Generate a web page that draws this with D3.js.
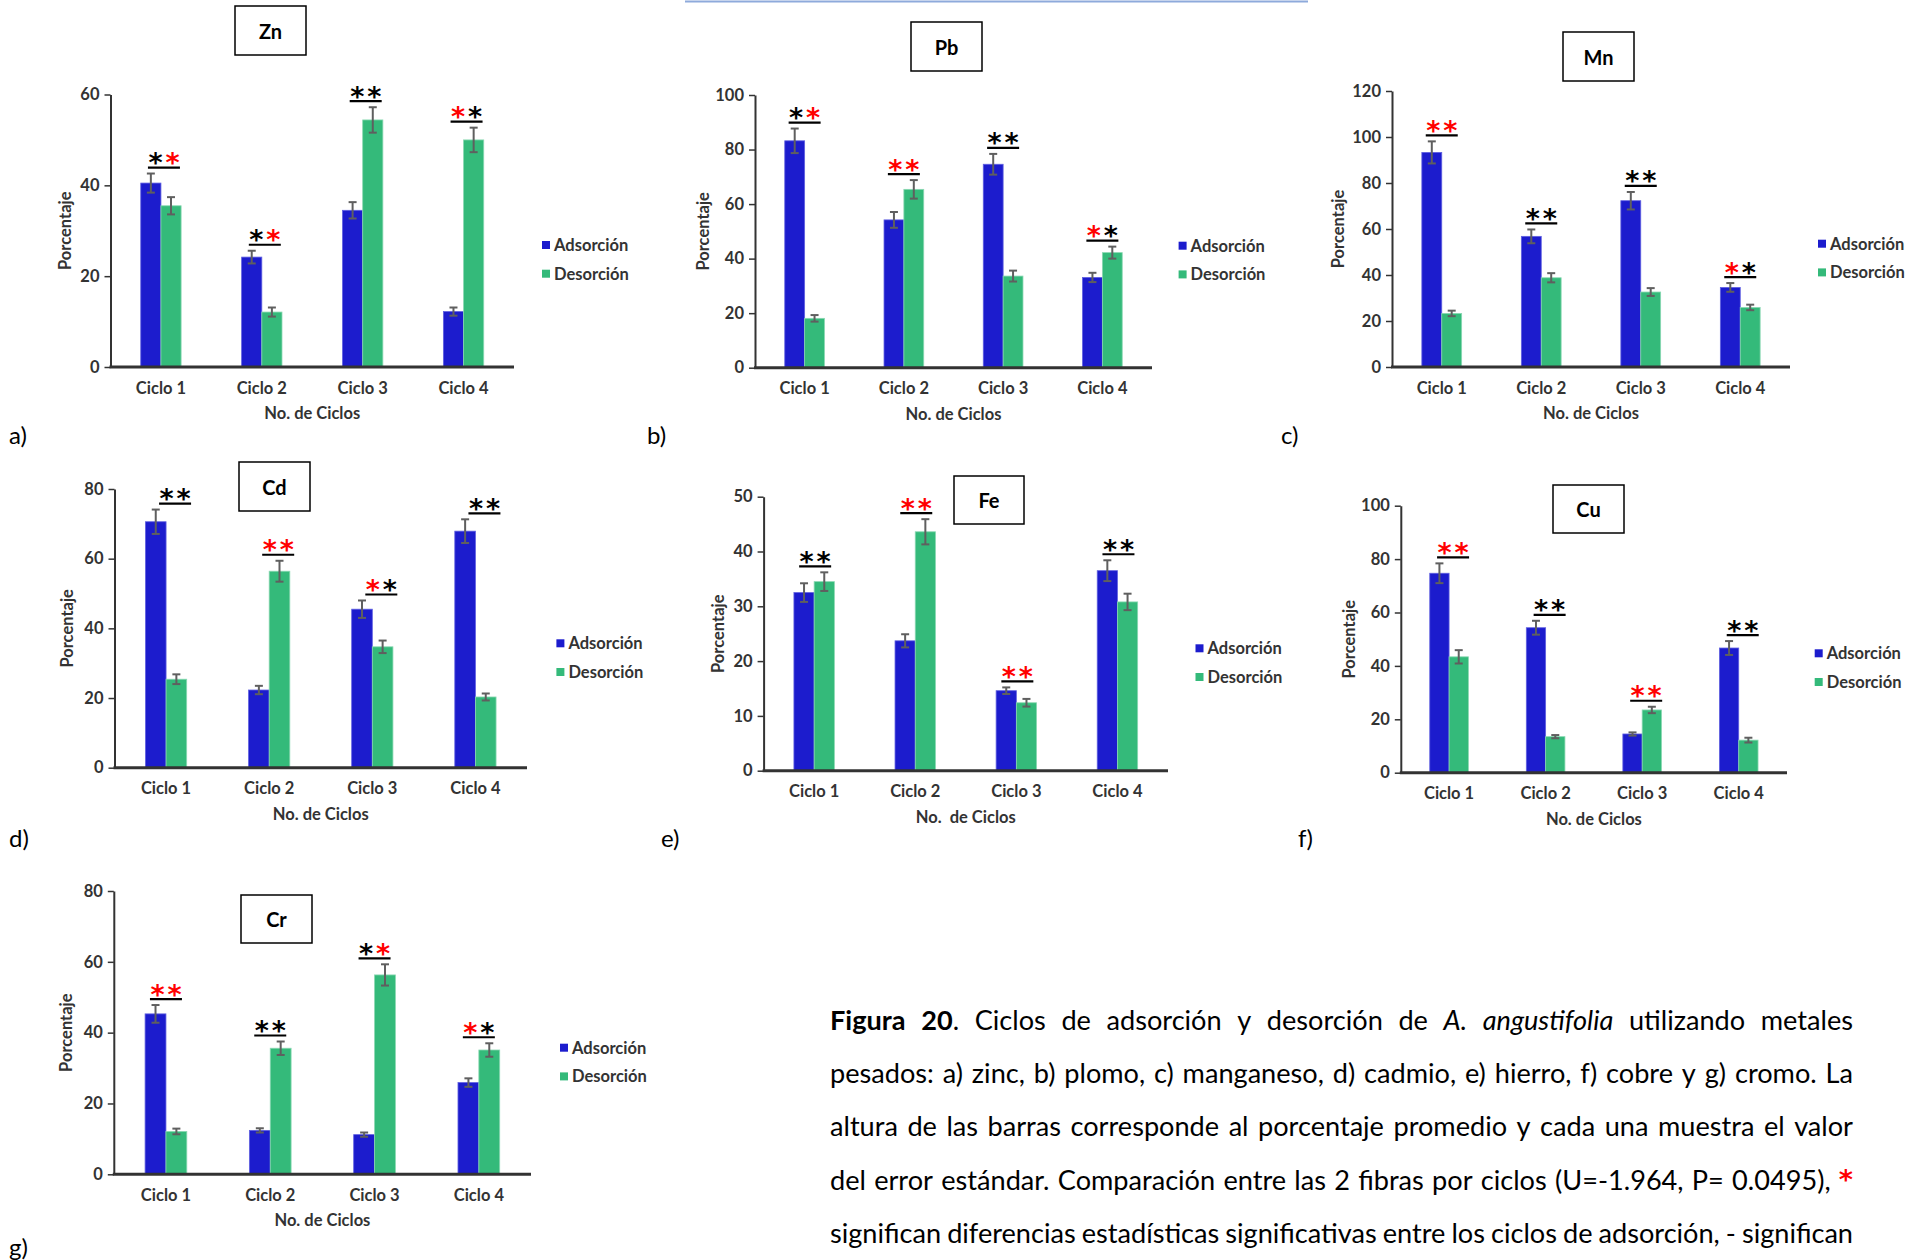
<!DOCTYPE html>
<html>
<head>
<meta charset="utf-8">
<script src="https://cdn.jsdelivr.net/npm/d3@7"></script>
<style>
  body { margin: 0; background: #fff; }
  svg { display: block; }
</style>
</head>
<body>
<svg id="fig" width="1927" height="1260"></svg>
<script>
// ---- data ----
const cycles = ["Ciclo 1", "Ciclo 2", "Ciclo 3", "Ciclo 4"];
const seriesNames = ["Adsorción", "Desorción"];
const metals = ["Zn", "Pb", "Mn", "Cd", "Fe", "Cu", "Cr"];
const panelTags = ["a)", "b)", "c)", "d)", "e)", "f)", "g)"];
const yMaxima = [60, 100, 120, 80, 50, 100, 80];
const yTickSteps = [20, 20, 20, 20, 10, 20, 20];

// mean percentage per cycle, one row per metal
const adsMean = [
  [40.5, 24.2, 34.5, 12.2],
  [83.2, 54.2, 74.6, 33.1],
  [93.3, 56.8, 72.3, 34.6],
  [70.6, 22.3, 45.5, 67.9],
  [32.5, 23.7, 14.6, 36.5],
  [74.7, 54.3, 14.5, 46.7],
  [45.3, 12.4, 11.2, 25.9]
];
const adsErr = [
  [2.1, 1.4, 1.8, 0.9],
  [4.5, 2.9, 3.8, 1.7],
  [4.8, 3.0, 3.8, 1.9],
  [3.5, 1.2, 2.5, 3.4],
  [1.7, 1.2, 0.6, 1.9],
  [3.7, 2.6, 0.6, 2.6],
  [2.5, 0.6, 0.6, 1.2]
];
const desMean = [
  [35.5, 12.1, 54.4, 50.0],
  [18.1, 65.4, 33.6, 42.2],
  [23.3, 38.8, 32.6, 25.9],
  [25.4, 56.4, 34.7, 20.3],
  [34.5, 43.6, 12.4, 30.8],
  [43.4, 13.5, 23.5, 12.2],
  [12.1, 35.6, 56.3, 35.1]
];
const desErr = [
  [1.9, 1.0, 2.8, 2.7],
  [1.2, 3.4, 2.0, 2.2],
  [1.2, 2.0, 1.7, 1.2],
  [1.4, 3.0, 1.8, 1.0],
  [1.7, 2.3, 0.7, 1.5],
  [2.5, 0.6, 1.2, 0.9],
  [0.8, 1.9, 3.0, 1.9]
];
// significance asterisks per cycle: k = black, r = red
const sigMarks = [
  ["kr", "kr", "kk", "rk"],
  ["kr", "rr", "kk", "rk"],
  ["rr", "kk", "kk", "rk"],
  ["kk", "rr", "rk", "kk"],
  ["kk", "rr", "rr", "kk"],
  ["rr", "kk", "rr", "kk"],
  ["rr", "kk", "kr", "rk"]
];
const xTitles = ["No. de Ciclos", "No. de Ciclos", "No. de Ciclos", "No. de Ciclos",
                 "No.  de Ciclos", "No. de Ciclos", "No. de Ciclos"];
const yTitle = "Porcentaje";

const captionLines = [
  [["Figura 20", "b"], [". Ciclos de adsorción y desorción de ", ""], ["A. angustifolia", "i"], [" utilizando metales", ""]],
  [["pesados: a) zinc, b) plomo, c) manganeso, d) cadmio, e) hierro, f) cobre y g) cromo. La", ""]],
  [["altura de las barras corresponde al porcentaje promedio y cada una muestra el valor", ""]],
  [["del error estándar. Comparación entre las 2 fibras por ciclos (U=-1.964, P= 0.0495), ", ""], ["*", "r"]],
  [["significan diferencias estadísticas significativas entre los ciclos de adsorción, - significan", ""]]
];

// ---- layout ----
const panels = [
  { x0: 110.5, x1: 514,   yT: 94.5,  yB: 367,    box: [235, 6, 71, 49],    leg: [542, 245],     yl: 65,   tag: [9, 434],    sdx: 3 },
  { x0: 755,   x1: 1152,  yT: 95,    yB: 367.7,  box: [911, 22, 71, 49],   leg: [1178.6, 245.7], yl: 703,  tag: [647, 434],  sdx: 0 },
  { x0: 1392,  x1: 1790,  yT: 91,    yB: 367,    box: [1563, 32, 71, 49],  leg: [1818, 243.7],  yl: 1338, tag: [1281, 434], sdx: 0 },
  { x0: 114.5, x1: 527,   yT: 489,   yB: 767.7,  box: [239, 462, 71, 49],  leg: [556.4, 643.3], yl: 67,   tag: [9, 837],    sdx: 9 },
  { x0: 763.6, x1: 1168,  yT: 496.7, yB: 770.7,  box: [954, 476, 70, 48],  leg: [1195.5, 648.3], yl: 718, tag: [661, 837],  sdx: 1 },
  { x0: 1400.8, x1: 1787, yT: 505.7, yB: 772.7,  box: [1553, 485, 71, 48], leg: [1814.7, 653.3], yl: 1349, tag: [1298, 837], sdx: 4 },
  { x0: 113.8, x1: 531,   yT: 891,   yB: 1174.3, box: [241, 895, 71, 48],  leg: [560, 1047.7],  yl: 66,   tag: [9, 1246],   sdx: 0 }
];

const COL = { ads: "#1c1ccd", des: "#34ba7a", adsEdge: "#6060e0", desEdge: "#8ad8b2",
              ink: "#333333", err: "#5f5f5f", red: "#ff0000" };
const chartFont = "Lato, 'Open Sans', sans-serif";
const starFont = "'DejaVu Sans', sans-serif";
const svg = d3.select("#fig");
svg.append("rect").attr("width", 1927).attr("height", 1260).attr("fill", "#fff");

// thin rule at the top of the page
svg.append("line").attr("x1", 685).attr("x2", 1308).attr("y1", 1.5).attr("y2", 1.5)
  .attr("stroke", "#8eaadb").attr("stroke-width", 2);

function drawPanel(i) {
  const P = panels[i];
  const g = svg.append("g").attr("class", "panel-" + metals[i]);
  const y = d3.scaleLinear().domain([0, yMaxima[i]]).range([P.yB, P.yT]);
  const x = d3.scaleBand().domain(cycles).range([P.x0, P.x1]).paddingInner(0.6).paddingOuter(0.3);
  const xs = d3.scaleBand().domain(seriesNames).range([0, x.bandwidth()]);

  const rows = cycles.map((c, k) => ({
    cycle: c,
    vals: [
      { s: seriesNames[0], v: adsMean[i][k], e: adsErr[i][k], fill: COL.ads, edge: COL.adsEdge },
      { s: seriesNames[1], v: desMean[i][k], e: desErr[i][k], fill: COL.des, edge: COL.desEdge }
    ],
    marks: sigMarks[i][k]
  }));

  // bars
  const grp = g.selectAll("g.cyc").data(rows).join("g").attr("class", "cyc")
    .attr("transform", d => `translate(${x(d.cycle)},0)`);
  grp.selectAll("rect").data(d => d.vals).join("rect")
    .attr("x", d => xs(d.s)).attr("width", xs.bandwidth())
    .attr("y", d => y(d.v)).attr("height", d => y(0) - y(d.v))
    .attr("fill", d => d.fill).attr("stroke", d => d.edge).attr("stroke-width", 0.8);

  // error bars
  const eb = grp.selectAll("g.err").data(d => d.vals).join("g").attr("class", "err")
    .attr("stroke", COL.err).attr("stroke-width", 2);
  const cxOf = d => xs(d.s) + xs.bandwidth() / 2;
  eb.append("line").attr("x1", cxOf).attr("x2", cxOf)
    .attr("y1", d => y(d.v + d.e)).attr("y2", d => y(d.v - d.e));
  eb.append("line").attr("x1", d => cxOf(d) - 4).attr("x2", d => cxOf(d) + 4)
    .attr("y1", d => y(d.v + d.e)).attr("y2", d => y(d.v + d.e));
  eb.append("line").attr("x1", d => cxOf(d) - 4).attr("x2", d => cxOf(d) + 4)
    .attr("y1", d => y(d.v - d.e)).attr("y2", d => y(d.v - d.e));

  // significance asterisks with underline
  rows.forEach(r => {
    const top = d3.max(r.vals, d => d.v + d.e);
    const uy = y(top) - 6;
    const cx = x(r.cycle) + x.bandwidth() / 2 + P.sdx;
    g.append("line").attr("x1", cx - 16).attr("x2", cx + 16).attr("y1", uy).attr("y2", uy)
      .attr("stroke", "#000").attr("stroke-width", 2.2);
    r.marks.split("").forEach((m, j) => {
      g.append("text").attr("x", cx + (j === 0 ? -8.5 : 8.5)).attr("y", uy + 4.5)
        .attr("text-anchor", "middle").attr("font-family", starFont)
        .attr("font-weight", "bold").attr("font-size", 27)
        .attr("fill", m === "r" ? COL.red : "#000").text("*");
    });
  });

  // y axis
  const yAxis = d3.axisLeft(y).tickValues(d3.range(0, yMaxima[i] + 0.001, yTickSteps[i]))
    .tickSize(6).tickSizeOuter(0).tickPadding(5);
  const ya = g.append("g").attr("transform", `translate(${P.x0},0)`).call(yAxis);
  ya.select(".domain").attr("stroke", COL.ink).attr("stroke-width", 2);
  ya.selectAll(".tick line").attr("stroke", COL.ink).attr("stroke-width", 1.5);
  ya.selectAll(".tick text").attr("font-family", chartFont).attr("font-weight", "bold")
    .attr("font-size", 16.5).attr("fill", COL.ink);

  // x axis
  const xAxis = d3.axisBottom(x).tickSize(0).tickSizeOuter(0).tickPadding(15);
  const xa = g.append("g").attr("transform", `translate(0,${P.yB})`).call(xAxis);
  xa.select(".domain").attr("stroke", COL.ink).attr("stroke-width", 3)
    .attr("d", `M${P.x0 - 1},0H${P.x1}`);
  xa.selectAll(".tick text").attr("font-family", chartFont).attr("font-weight", "bold")
    .attr("font-size", 16.5).attr("fill", COL.ink);

  // axis titles
  g.append("text").attr("transform", `translate(${P.yl},${(P.yT + P.yB) / 2}) rotate(-90)`)
    .attr("text-anchor", "middle").attr("dominant-baseline", "central")
    .attr("font-family", chartFont).attr("font-weight", "bold").attr("font-size", 16.5)
    .attr("fill", COL.ink).text(yTitle);
  g.append("text").attr("x", (P.x0 + P.x1) / 2).attr("y", P.yB + 46)
    .attr("text-anchor", "middle").attr("dominant-baseline", "central")
    .style("white-space", "pre")
    .attr("font-family", chartFont).attr("font-weight", "bold").attr("font-size", 16.5)
    .attr("fill", COL.ink).text(xTitles[i]);

  // legend
  seriesNames.forEach((s, j) => {
    const ly = P.leg[1] + j * 28.7;
    g.append("rect").attr("x", P.leg[0]).attr("y", ly - 4).attr("width", 8).attr("height", 8)
      .attr("fill", j === 0 ? COL.ads : COL.des);
    g.append("text").attr("x", P.leg[0] + 12).attr("y", ly).attr("dominant-baseline", "central")
      .attr("font-family", chartFont).attr("font-weight", "bold").attr("font-size", 16.5)
      .attr("fill", COL.ink).text(s);
  });

  // metal title box
  const [bx, by, bw, bh] = P.box;
  g.append("rect").attr("x", bx).attr("y", by).attr("width", bw).attr("height", bh)
    .attr("fill", "#fff").attr("stroke", "#000").attr("stroke-width", 1.5);
  g.append("text").attr("x", bx + bw / 2).attr("y", by + bh / 2)
    .attr("text-anchor", "middle").attr("dominant-baseline", "central")
    .attr("font-family", chartFont).attr("font-weight", "bold").attr("font-size", 20)
    .attr("fill", "#000").text(metals[i]);

  // panel letter
  g.append("text").attr("x", P.tag[0]).attr("y", P.tag[1]).attr("dominant-baseline", "central")
    .attr("font-family", chartFont).attr("font-size", 24).attr("fill", "#000").text(panelTags[i]);
}

metals.forEach((m, i) => drawPanel(i));

// ---- justified caption ----
const capLeft = 830, capRight = 1853;
const capY = [1018.5, 1072, 1125.3, 1178.7, 1232];
const capFont = "Lato, 'Open Sans', sans-serif";

function toWords(runs) {
  const words = []; let cur = [];
  runs.forEach(([t, s]) => {
    t.split(" ").forEach((p, k) => {
      if (k > 0) { if (cur.length) words.push(cur); cur = []; }
      if (p !== "") cur.push([p, s]);
    });
  });
  if (cur.length) words.push(cur);
  return words;
}

const capG = svg.append("g").attr("class", "caption");
function styleRun(sel, s) {
  sel.attr("font-weight", s === "b" || s === "r" ? "bold" : null)
     .attr("font-style", s === "i" ? "italic" : null)
     .attr("font-family", s === "r" ? starFont : null)
     .attr("fill", s === "r" ? COL.red : "#000");
}
function layCaption(fs) {
  capG.selectAll("*").remove();
  let worst = 0;
  const measured = captionLines.map((runs, li) => {
    const words = toWords(runs);
    const nodes = words.map(w => {
      const t = capG.append("text").attr("font-family", capFont).attr("font-size", fs)
        .attr("y", capY[li]).attr("dominant-baseline", "central");
      w.forEach(([p, s]) => styleRun(t.append("tspan").text(p), s));
      return t;
    });
    const widths = nodes.map(n => n.node().getComputedTextLength());
    const sum = d3.sum(widths);
    worst = Math.max(worst, (sum + (words.length - 1) * fs * 0.22) / (capRight - capLeft));
    return { nodes, widths, sum };
  });
  return { measured, worst };
}
// size the caption so the fullest line fills the column with ordinary spaces
let capFs = 23;
let lay = layCaption(capFs);
capFs = capFs / lay.worst;
lay = layCaption(capFs);
lay.measured.forEach(({ nodes, widths, sum }) => {
  const gap = nodes.length > 1 ? (capRight - capLeft - sum) / (nodes.length - 1) : 0;
  let xPos = capLeft;
  nodes.forEach((n, k) => { n.attr("x", xPos); xPos += widths[k] + gap; });
});
</script>
</body>
</html>
